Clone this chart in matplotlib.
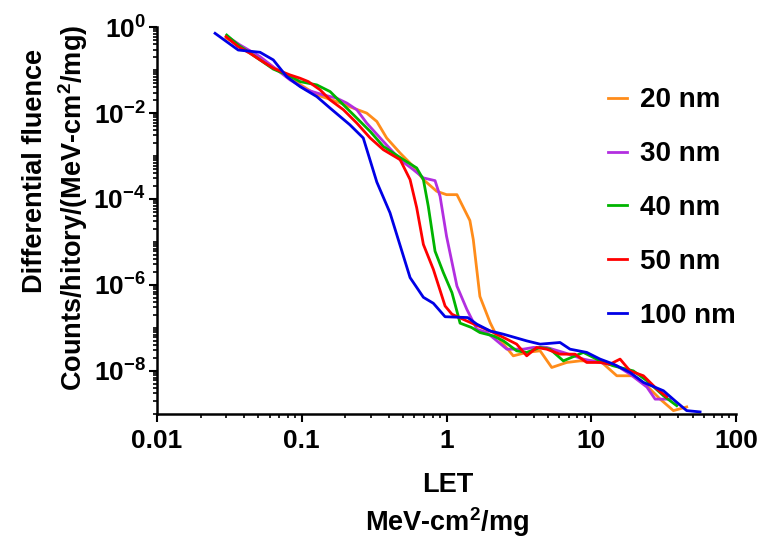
import matplotlib
matplotlib.use('Agg')
import matplotlib.pyplot as plt
import numpy as np
from matplotlib.ticker import LogLocator, FixedLocator, FuncFormatter, NullFormatter

plt.rcParams['font.family'] = ['Liberation Sans', 'DejaVu Sans']
plt.rcParams['font.weight'] = 'bold'
plt.rcParams['mathtext.fontset'] = 'custom'
plt.rcParams['mathtext.rm'] = 'Liberation Sans:bold'
plt.rcParams['mathtext.it'] = 'Liberation Sans:bold'
plt.rcParams['mathtext.bf'] = 'Liberation Sans:bold'

# LET (MeV-cm2/mg) and differential fluence for each film thickness
let_20 = [0.0300, 0.0375, 0.0515, 0.0830, 0.127, 0.174, 0.227, 0.281, 0.330, 0.386,
          0.478, 0.590, 0.692, 0.855, 1.0, 1.18, 1.45, 1.53, 1.70, 2.00, 2.22, 2.89,
          3.58, 4.43, 5.33, 6.76, 8.36, 11.5, 15.0, 19.5, 24.2, 29.9, 36.9, 45.6]
flu_20 = [0.556, 0.362, 0.188, 0.0645, 0.0264, 0.0185, 0.013, 0.00995, 0.00635, 0.00262,
          1.17e-3, 5.7e-4, 2.82e-4, 1.51e-4, 1.26e-4, 1.26e-4, 3.15e-5, 1.14e-5, 5.4e-7, 1.33e-7,
          6.5e-8, 2.24e-8, 2.69e-8, 2.93e-8, 1.2e-8, 1.57e-8, 1.71e-8, 1.71e-8, 7.7e-9, 7.7e-9,
          4.5e-9, 2.2e-9, 1.19e-9, 1.45e-9]

let_30 = [0.0319, 0.0375, 0.0515, 0.0830, 0.108, 0.141, 0.174, 0.205, 0.240, 0.281,
          0.366, 0.478, 0.590, 0.692, 0.833, 0.902, 1.0, 1.18, 1.38, 1.62, 1.90, 2.61,
          3.39, 3.98, 4.92, 6.41, 8.81, 11.5, 15.0, 18.5, 24.2, 27.6, 35.0]
flu_30 = [0.547, 0.382, 0.205, 0.0589, 0.0345, 0.0264, 0.0222, 0.0170, 0.0119, 0.00583,
          0.00218, 8.2e-4, 4.8e-4, 3.09e-4, 2.67e-4, 1.16e-4, 1.36e-5, 9.4e-7, 2.72e-7, 9.3e-8,
          7.8e-8, 3.2e-8, 3.2e-8, 3.51e-8, 3.51e-8, 2.69e-8, 1.88e-8, 1.57e-8, 1.31e-8, 8.4e-9,
          4.2e-9, 2.2e-9, 2.2e-9]

let_40 = [0.0303, 0.0364, 0.0515, 0.0636, 0.0830, 0.0973, 0.127, 0.157, 0.194, 0.240,
          0.297, 0.366, 0.504, 0.622, 0.692, 0.748, 0.833, 0.951, 1.09, 1.18, 1.24, 1.49,
          1.70, 2.11, 2.47, 3.05, 3.58, 4.43, 5.19, 6.41, 8.81, 11.5, 14.2, 19.5, 24.2,
          31.5, 38.9]
flu_40 = [0.652, 0.382, 0.172, 0.105, 0.072, 0.0538, 0.0451, 0.0315, 0.0155, 0.00762,
          0.00372, 0.00167, 8.2e-4, 5.27e-4, 2.82e-4, 6.77e-5, 6.1e-6, 1.93e-6, 6.6e-7, 2.44e-7,
          1.29e-7, 1.02e-7, 7.8e-8, 6.5e-8, 5.0e-8, 2.93e-8, 2.69e-8, 3.51e-8, 3.2e-8, 1.71e-8,
          2.69e-8, 1.71e-8, 1.31e-8, 1.0e-8, 5.9e-9, 2.64e-9, 1.55e-9]

let_50 = [0.0300, 0.0364, 0.0439, 0.0515, 0.0636, 0.0830, 0.0973, 0.111, 0.134, 0.157,
          0.194, 0.240, 0.297, 0.366, 0.478, 0.560, 0.622, 0.692, 0.811, 0.977, 1.09, 1.38,
          1.66, 2.11, 2.61, 3.05, 3.58, 4.20, 4.92, 6.08, 7.72, 9.30, 11.5, 13.5, 15.8,
          18.5, 22.9, 28.3, 33.2]
flu_50 = [0.596, 0.349, 0.245, 0.172, 0.110, 0.0769, 0.0645, 0.0538, 0.0345, 0.0202,
          0.0119, 0.00583, 0.00262, 0.0014, 8.2e-4, 2.82e-4, 6.3e-5, 8.75e-6, 2.3e-6, 3.24e-7,
          2.08e-7, 1.45e-7, 1.11e-7, 7.8e-8, 5.47e-8, 4.19e-8, 2.24e-8, 3.51e-8, 3.2e-8, 2.45e-8,
          2.45e-8, 1.57e-8, 1.57e-8, 1.44e-8, 1.88e-8, 1.0e-8, 7.7e-9, 3.8e-9, 2.5e-9]

let_100 = [0.0252, 0.0364, 0.0515, 0.0636, 0.0787, 0.0973, 0.127, 0.157, 0.215, 0.266,
           0.330, 0.407, 0.560, 0.692, 0.811, 0.977, 1.40, 1.62, 2.00, 2.47, 3.58, 4.43,
           6.08, 7.13, 9.30, 11.5, 14.2, 18.5, 22.9, 31.5, 38.9, 45.6, 56.4]
flu_100 = [0.714, 0.292, 0.259, 0.172, 0.0703, 0.0412, 0.0241, 0.0130, 0.00532, 0.00262,
           2.47e-4, 4.76e-5, 1.48e-6, 5.15e-7, 3.74e-7, 1.82e-7, 1.74e-7, 1.22e-7, 8.5e-8, 7.14e-8,
           4.99e-8, 4.19e-8, 4.58e-8, 3.2e-8, 2.69e-8, 1.88e-8, 1.44e-8, 9.2e-9, 5.4e-9, 3.45e-9,
           1.86e-9, 1.19e-9, 1.11e-9]

labels = ['20 nm', '30 nm', '40 nm', '50 nm', '100 nm']
colors = ['#ff8c1a', '#b22ee0', '#00b400', '#ff0000', '#0000e6']
series = [(let_20, flu_20), (let_30, flu_30), (let_40, flu_40),
          (let_50, flu_50), (let_100, flu_100)]

fig = plt.figure(figsize=(7.62, 5.41), dpi=100)
ax = fig.add_axes([0.206, 0.235, 0.760, 0.715])

for (x, y), lab, c in zip(series, labels, colors):
    ax.plot(x, y, color=c, lw=2.0, label=lab)

ax.set_xscale('log')
ax.set_yscale('log')
ax.set_xlim(0.01, 100)
ax.set_ylim(1e-9, 1)

for s in ['top', 'right']:
    ax.spines[s].set_visible(False)
for s in ['left', 'bottom']:
    ax.spines[s].set_linewidth(1.8)

ax.xaxis.set_major_locator(FixedLocator([0.01, 0.1, 1, 10, 100]))
ax.xaxis.set_minor_locator(LogLocator(base=10, subs=np.arange(2, 10)))
ax.xaxis.set_major_formatter(FuncFormatter(lambda v, p: {0.01: '0.01', 0.1: '0.1', 1: '1',
                                                          10: '10', 100: '100'}.get(v, '')))
ax.xaxis.set_minor_formatter(NullFormatter())

ax.yaxis.set_major_locator(FixedLocator([1e-8, 1e-6, 1e-4, 1e-2, 1]))
ax.yaxis.set_minor_locator(LogLocator(base=10, subs=np.arange(1, 10), numticks=20))
ax.yaxis.set_major_formatter(FuncFormatter(lambda v, p: r'$10^{%d}$' % round(np.log10(v))))
ax.yaxis.set_minor_formatter(NullFormatter())

ax.tick_params(which='major', length=6, width=1.5, labelsize=19, direction='out')
ax.tick_params(which='minor', length=3, width=1.2, direction='out')
ax.tick_params(axis='x', which='major', pad=5)
ax.tick_params(axis='y', which='major', pad=2, labelsize=19)

fig.text(0.587, 1 - 485 / 541, 'LET', ha='center', va='center', fontsize=19.5, fontweight='bold')
fig.text(0.587, 1 - 522 / 541, r'MeV-cm$^2$/mg', ha='center', va='center', fontsize=19.5,
         fontweight='bold')
fig.text(35 / 762, 1 - 171 / 541, 'Differential fluence', rotation=90, ha='center',
         va='center', fontsize=19.5, fontweight='bold')
fig.text(73 / 762, 1 - 208 / 541, r'Counts/hitory/(MeV-cm$^2$/mg)', rotation=90,
         ha='center', va='center', fontsize=19.5, fontweight='bold')

leg = ax.legend(loc='center left', bbox_to_anchor=(0.765, 1 - 208 / 541),
                bbox_transform=fig.transFigure, frameon=False, fontsize=20,
                handlelength=0.7, handletextpad=0.45, labelspacing=1.0)
for line in leg.get_lines():
    line.set_linewidth(2.0)

plt.savefig('out.png', dpi=100)
